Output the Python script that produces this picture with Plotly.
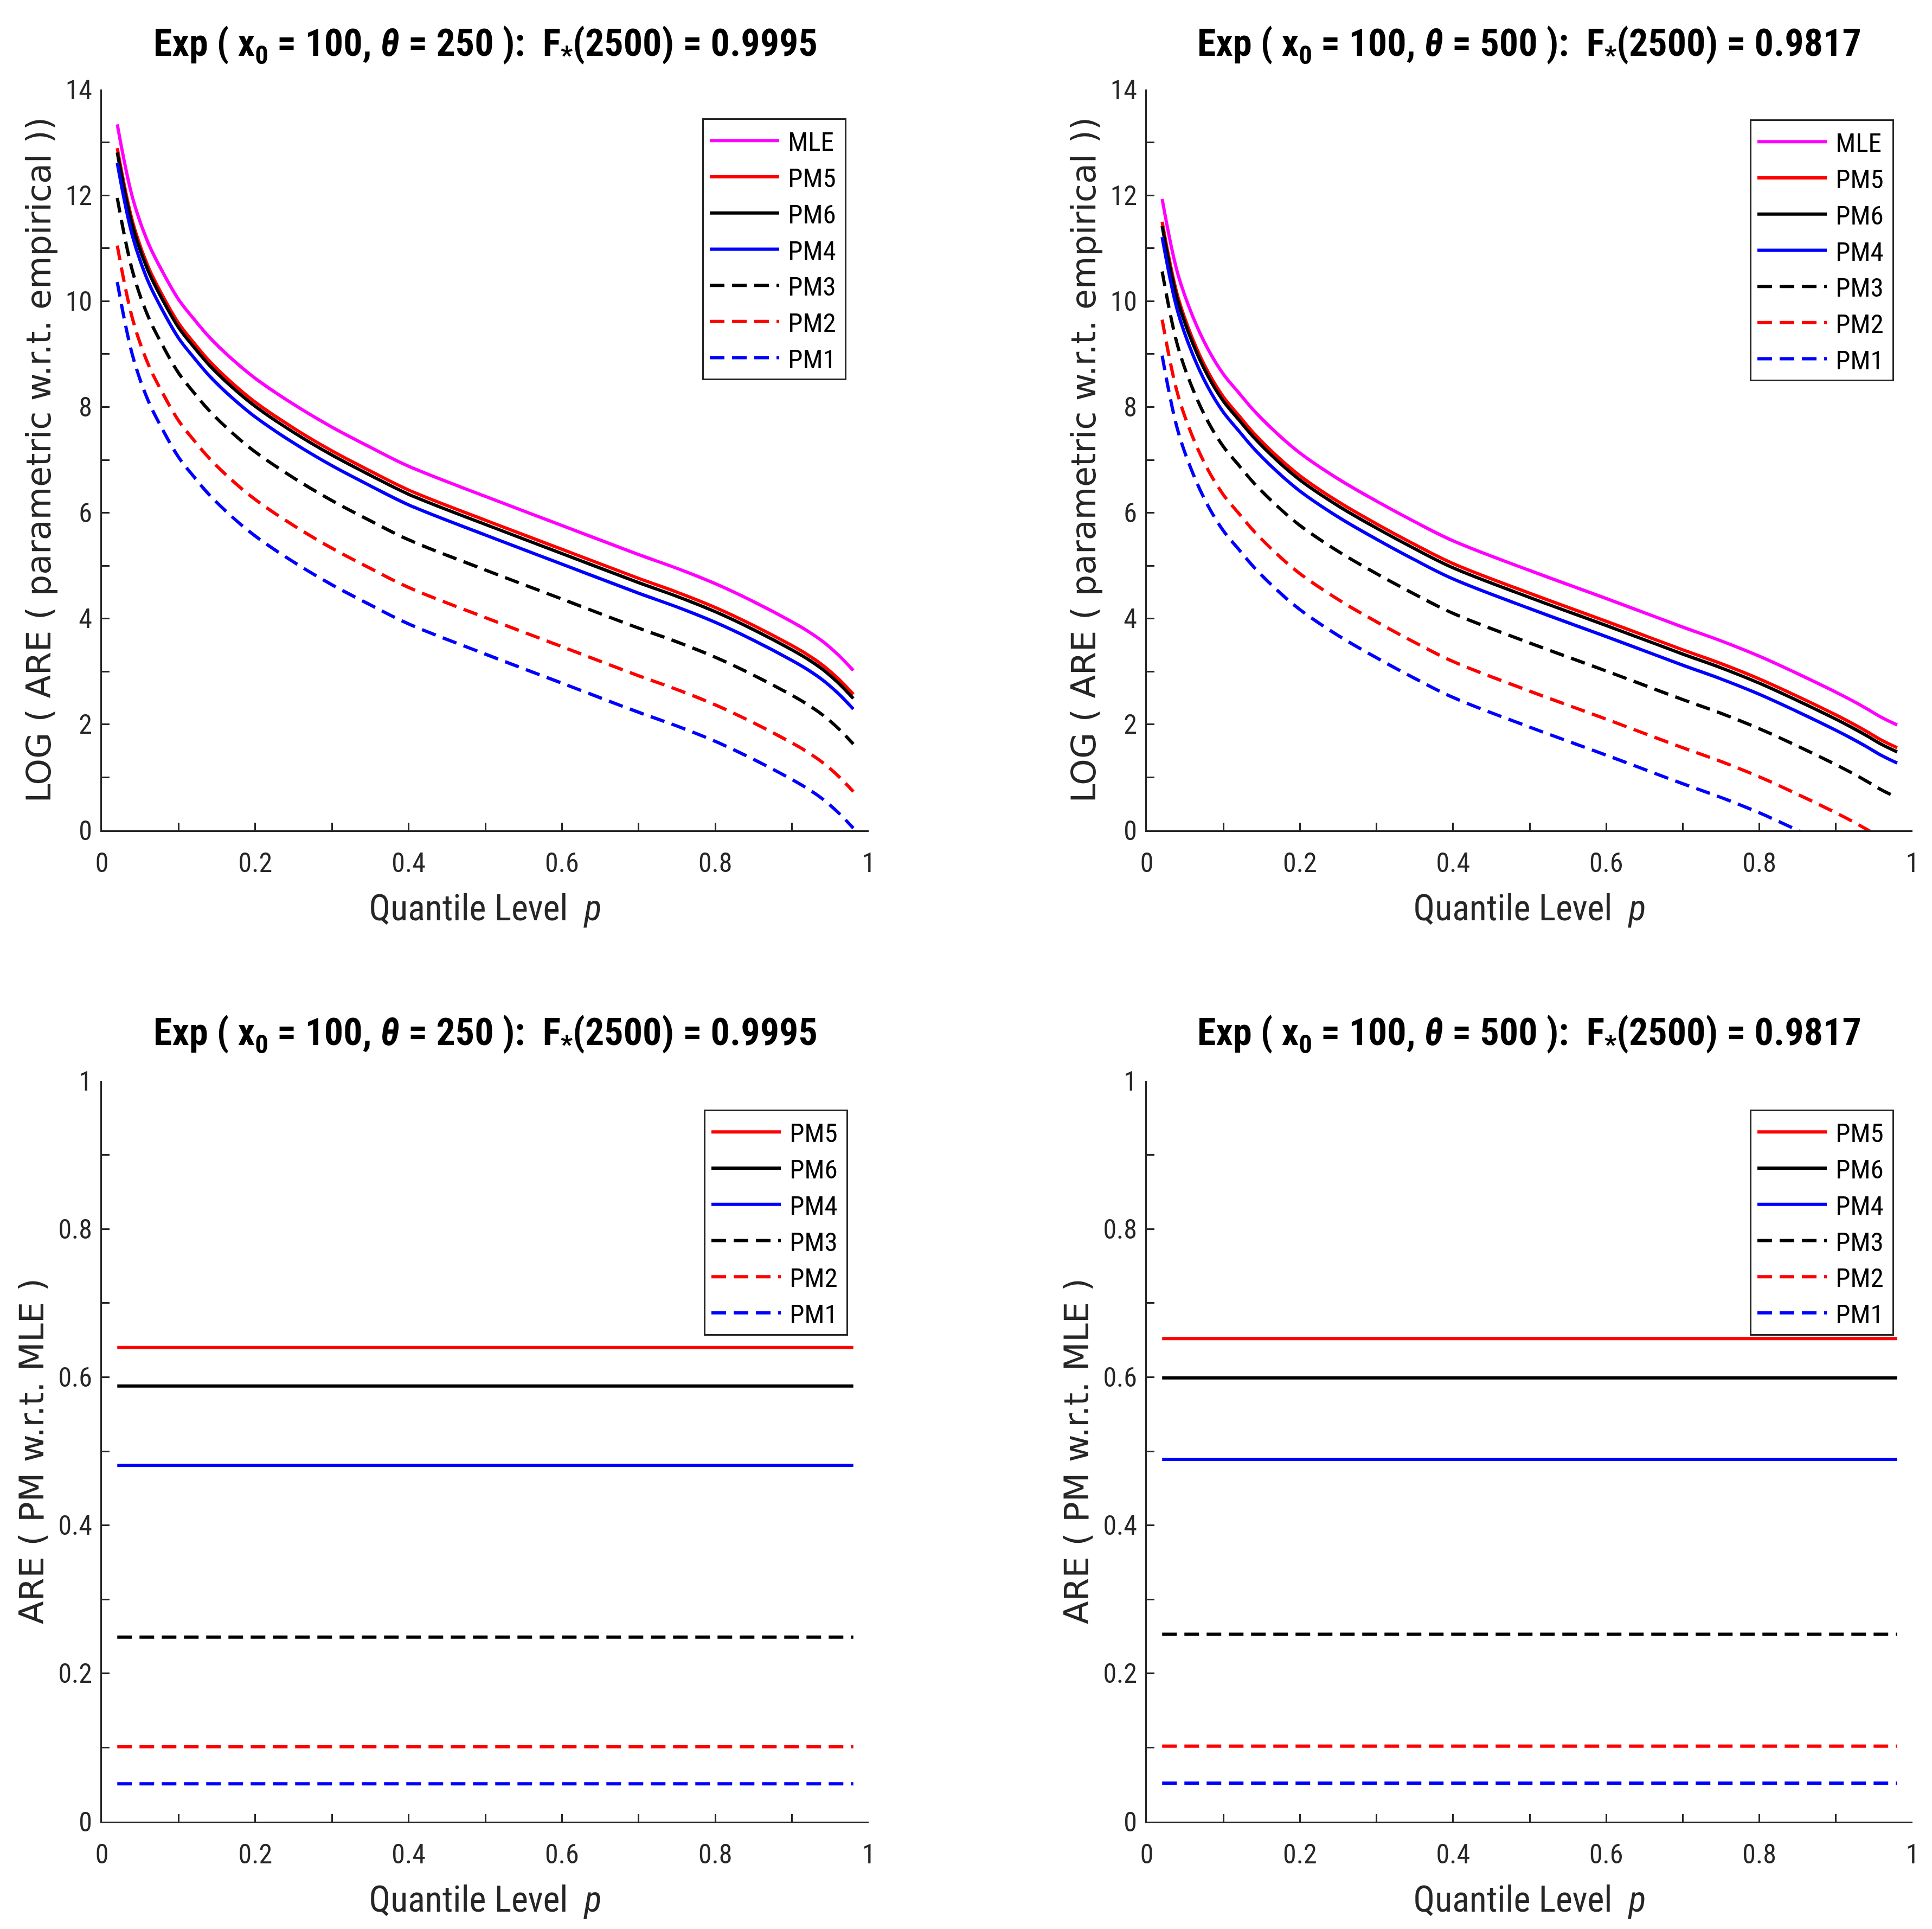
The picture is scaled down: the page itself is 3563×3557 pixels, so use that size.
import plotly.graph_objects as go

# ---------------- data ----------------
p = [0.02, 0.04, 0.06, 0.08, 0.10, 0.12, 0.14, 0.17, 0.20, 0.25, 0.30, 0.35,
     0.40, 0.50, 0.60, 0.70, 0.75, 0.80, 0.85, 0.90, 0.92, 0.94, 0.96, 0.98]

series_names = ["MLE", "PM5", "PM6", "PM4", "PM3", "PM2", "PM1"]

# theta = 250 : LOG( ARE (parametric w.r.t. empirical) )
mle_250 = [13.34, 11.95, 11.11, 10.53, 10.03, 9.66, 9.32, 8.90, 8.54, 8.05, 7.62, 7.24,
           6.88, 6.31, 5.76, 5.21, 4.95, 4.66, 4.32, 3.94, 3.77, 3.57, 3.32, 3.02]
pm5_250 = [12.89, 11.50, 10.66, 10.08, 9.58, 9.21, 8.87, 8.45, 8.09, 7.60, 7.17, 6.79,
           6.43, 5.86, 5.31, 4.76, 4.50, 4.21, 3.87, 3.49, 3.32, 3.12, 2.87, 2.57]
pm6_250 = [12.81, 11.42, 10.58, 10.00, 9.50, 9.13, 8.79, 8.37, 8.01, 7.52, 7.09, 6.71,
           6.35, 5.78, 5.23, 4.68, 4.42, 4.13, 3.79, 3.41, 3.24, 3.04, 2.79, 2.49]
pm4_250 = [12.61, 11.22, 10.38, 9.80, 9.30, 8.93, 8.59, 8.17, 7.81, 7.32, 6.89, 6.51,
           6.15, 5.58, 5.03, 4.48, 4.22, 3.93, 3.59, 3.21, 3.04, 2.84, 2.59, 2.29]
pm3_250 = [11.95, 10.56, 9.72, 9.14, 8.64, 8.27, 7.93, 7.51, 7.15, 6.66, 6.23, 5.85,
           5.49, 4.92, 4.37, 3.82, 3.56, 3.27, 2.93, 2.55, 2.38, 2.18, 1.93, 1.63]
pm2_250 = [11.05, 9.66, 8.82, 8.24, 7.74, 7.37, 7.03, 6.61, 6.25, 5.76, 5.33, 4.95,
           4.59, 4.02, 3.47, 2.92, 2.66, 2.37, 2.03, 1.65, 1.48, 1.28, 1.03, 0.73]
pm1_250 = [10.36, 8.97, 8.13, 7.55, 7.05, 6.68, 6.34, 5.92, 5.56, 5.07, 4.64, 4.26,
           3.90, 3.33, 2.78, 2.23, 1.97, 1.68, 1.34, 0.96, 0.79, 0.59, 0.34, 0.04]

# theta = 500
mle_500 = [11.93, 10.54, 9.71, 9.09, 8.62, 8.27, 7.93, 7.50, 7.13, 6.64, 6.22, 5.83,
           5.47, 4.91, 4.38, 3.84, 3.58, 3.29, 2.96, 2.61, 2.46, 2.30, 2.13, 1.99]
pm5_500 = [11.50, 10.11, 9.28, 8.66, 8.19, 7.84, 7.50, 7.07, 6.70, 6.21, 5.79, 5.40,
           5.04, 4.48, 3.95, 3.41, 3.15, 2.86, 2.53, 2.18, 2.03, 1.87, 1.70, 1.56]
pm6_500 = [11.42, 10.03, 9.20, 8.58, 8.11, 7.76, 7.42, 6.99, 6.62, 6.13, 5.71, 5.32,
           4.96, 4.40, 3.87, 3.33, 3.07, 2.78, 2.45, 2.10, 1.95, 1.79, 1.62, 1.48]
pm4_500 = [11.21, 9.82, 8.99, 8.37, 7.90, 7.55, 7.21, 6.78, 6.41, 5.92, 5.50, 5.11,
           4.75, 4.19, 3.66, 3.12, 2.86, 2.57, 2.24, 1.89, 1.74, 1.58, 1.41, 1.27]
pm3_500 = [10.56, 9.17, 8.34, 7.72, 7.25, 6.90, 6.56, 6.13, 5.76, 5.27, 4.85, 4.46,
           4.10, 3.54, 3.01, 2.47, 2.21, 1.92, 1.59, 1.24, 1.09, 0.93, 0.76, 0.62]
pm2_500 = [9.65, 8.26, 7.43, 6.81, 6.34, 5.99, 5.65, 5.22, 4.85, 4.36, 3.94, 3.55,
           3.19, 2.63, 2.10, 1.56, 1.30, 1.01, 0.68, 0.33, 0.18, 0.02, -0.15, -0.29]
pm1_500 = [8.97, 7.58, 6.75, 6.13, 5.66, 5.31, 4.97, 4.54, 4.17, 3.68, 3.26, 2.87,
           2.51, 1.95, 1.42, 0.88, 0.62, 0.33, 0.00, -0.35, -0.50, -0.66, -0.83, -0.97]

# ARE ( PM w.r.t. MLE ) -- constant over p
pm_names = ["PM5", "PM6", "PM4", "PM3", "PM2", "PM1"]
are_pm_250 = [0.640, 0.588, 0.481, 0.249, 0.101, 0.051]
are_pm_500 = [0.652, 0.599, 0.489, 0.253, 0.102, 0.052]

# ticks: labelled (major) and unlabelled (minor)
x_major = [0, 0.2, 0.4, 0.6, 0.8, 1]
x_major_labels = ["0", "0.2", "0.4", "0.6", "0.8", "1"]
x_minor = [0.1, 0.3, 0.5, 0.7, 0.9]
y_top_major = [0, 2, 4, 6, 8, 10, 12, 14]
y_top_major_labels = ["0", "2", "4", "6", "8", "10", "12", "14"]
y_top_minor = [1, 3, 5, 7, 9, 11, 13]
y_bot_major = x_major
y_bot_major_labels = x_major_labels
y_bot_minor = x_minor

titles = [
    "<b>Exp ( x<sub>0</sub> = 100, <i>θ</i> = 250 ):  F<sub>*</sub>(2500) = 0.9995</b>",
    "<b>Exp ( x<sub>0</sub> = 100, <i>θ</i> = 500 ):  F<sub>*</sub>(2500) = 0.9817</b>",
]
xlab = "Quantile Level  <i>p</i>"
ylab_top = "LOG ( ARE ( parametric w.r.t. empirical ))"
ylab_bot = "ARE ( PM w.r.t. MLE )"

# ---------------- styles ----------------
NARROW = "Liberation Sans Narrow, Arial Narrow, Roboto Condensed, Roboto, Liberation Sans, sans-serif"
YFONT = "DejaVu Sans, Liberation Sans, Arial, sans-serif"
AX = "#262626"
DASH = "27px,14px"
style = {
    "MLE": dict(color="#FF00FF", dash="solid"),
    "PM5": dict(color="#FF0000", dash="solid"),
    "PM6": dict(color="#000000", dash="solid"),
    "PM4": dict(color="#0000FF", dash="solid"),
    "PM3": dict(color="#000000", dash=DASH),
    "PM2": dict(color="#FF0000", dash=DASH),
    "PM1": dict(color="#0000FF", dash=DASH),
}
LW = 6

# page body has an 8px margin: work in screen pixels and convert
OFF = 8
W, H = 3563 - 2 * OFF, 3557 - 2 * OFF

def fx(px):
    return (px - OFF) / W

def fy(py):
    return 1 - (py - OFF) / H

xdom_left = [fx(188), fx(1602)]
xdom_right = [fx(2115), fx(3527)]
ydom_top = [fy(1531), fy(165)]
ydom_bot = [fy(3359), fy(1993)]

fig = go.Figure()

top_sets = [
    [mle_250, pm5_250, pm6_250, pm4_250, pm3_250, pm2_250, pm1_250],
    [mle_500, pm5_500, pm6_500, pm4_500, pm3_500, pm2_500, pm1_500],
]
for k, sets in enumerate(top_sets):
    ax = "" if k == 0 else "2"
    lg = "legend" if k == 0 else "legend2"
    for name, vals in zip(series_names, sets):
        fig.add_trace(go.Scatter(
            x=p, y=vals, mode="lines", name=" " + name + " ",
            line=dict(color=style[name]["color"], dash=style[name]["dash"], width=LW,
                      shape="spline", smoothing=1.0),
            xaxis="x" + ax, yaxis="y" + ax, legend=lg, hoverinfo="skip"))

bot_sets = [are_pm_250, are_pm_500]
for k, vals in enumerate(bot_sets):
    ax = "3" if k == 0 else "4"
    lg = "legend3" if k == 0 else "legend4"
    for name, v in zip(pm_names, vals):
        fig.add_trace(go.Scatter(
            x=p, y=[v] * len(p), mode="lines", name=" " + name + " ",
            line=dict(color=style[name]["color"], dash=style[name]["dash"], width=LW),
            xaxis="x" + ax, yaxis="y" + ax, legend=lg, hoverinfo="skip"))

common_axis = dict(
    showline=True, linecolor=AX, linewidth=3, mirror=False,
    showgrid=False, zeroline=False, automargin=False,
    ticks="inside", ticklen=14, tickwidth=2.5, tickcolor=AX,
    tickfont=dict(family=NARROW, size=50, color=AX),
)

def minor(vals):
    return dict(tickmode="array", tickvals=vals, ticks="inside", ticklen=14,
                tickwidth=2.5, tickcolor=AX, showgrid=False)

def xaxis(dom, anchor):
    return dict(common_axis, domain=dom, anchor=anchor, range=[0, 1],
                tickmode="array", tickvals=x_major, ticktext=x_major_labels,
                minor=minor(x_minor), ticklabelstandoff=14,
                title=dict(text=xlab, font=dict(family=NARROW, size=66, color=AX),
                           standoff=32))

def yaxis(dom, anchor, rng, tv, tt, mv, label):
    return dict(common_axis, domain=dom, anchor=anchor, range=rng,
                tickmode="array", tickvals=tv, ticktext=tt,
                minor=minor(mv), ticklabelstandoff=5,
                title=dict(text=label, font=dict(family=YFONT, size=62, color=AX),
                           standoff=7))

legend_common = dict(xanchor="left", yanchor="top", bgcolor="white",
                     bordercolor=AX, borderwidth=3,
                     font=dict(family=NARROW, size=49, color="black"),
                     itemwidth=128, tracegroupgap=0, indentation=6)

fig.update_layout(
    template="none",
    width=W, height=H,
    paper_bgcolor="white", plot_bgcolor="white",
    margin=dict(l=0, r=0, t=0, b=0, autoexpand=False),
    showlegend=True,
    xaxis=xaxis(xdom_left, "y"),
    yaxis=yaxis(ydom_top, "x", [0, 14], y_top_major, y_top_major_labels, y_top_minor, ylab_top),
    xaxis2=xaxis(xdom_right, "y2"),
    yaxis2=yaxis(ydom_top, "x2", [0, 14], y_top_major, y_top_major_labels, y_top_minor, ylab_top),
    xaxis3=xaxis(xdom_left, "y3"),
    yaxis3=yaxis(ydom_bot, "x3", [0, 1], y_bot_major, y_bot_major_labels, y_bot_minor, ylab_bot),
    xaxis4=xaxis(xdom_right, "y4"),
    yaxis4=yaxis(ydom_bot, "x4", [0, 1], y_bot_major, y_bot_major_labels, y_bot_minor, ylab_bot),
    legend=dict(legend_common, x=fx(1295), y=fy(218)),
    legend2=dict(legend_common, x=fx(3227), y=fy(220)),
    legend3=dict(legend_common, x=fx(1298), y=fy(2046)),
    legend4=dict(legend_common, x=fx(3227), y=fy(2046)),
)

title_pos = [
    (sum(xdom_left) / 2, fy(84), titles[0]),
    (sum(xdom_right) / 2, fy(84), titles[1]),
    (sum(xdom_left) / 2, fy(1908), titles[0]),
    (sum(xdom_right) / 2, fy(1908), titles[1]),
]
for x, y, t in title_pos:
    fig.add_annotation(x=x, y=y, xref="paper", yref="paper", text=t, showarrow=False,
                       xanchor="center", yanchor="middle",
                       font=dict(family=NARROW, size=70, color="black"))

fig.write_html("out.html")
